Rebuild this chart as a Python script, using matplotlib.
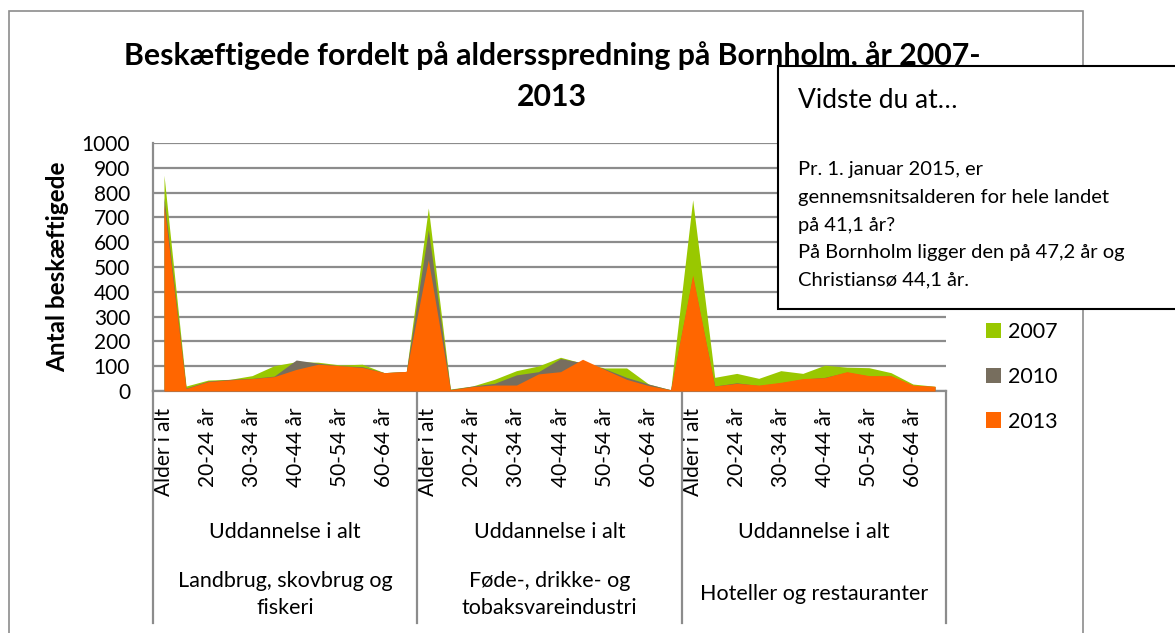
import numpy as np
import matplotlib.pyplot as plt
from matplotlib.patches import Rectangle, Patch
from matplotlib.lines import Line2D

plt.rcParams["font.family"] = ["Lato", "DejaVu Sans"]

# ---------------------------------------------------------
# Data
# ---------------------------------------------------------

ages = ["Alder i alt", "16-19 år", "20-24 år", "25-29 år", "30-34 år",
        "35-39 år", "40-44 år", "45-49 år", "50-54 år", "55-59 år",
        "60-64 år", "65 år og derover"]
industries = ["Landbrug, skovbrug og\nfiskeri",
              "Føde-, drikke- og\ntobaksvareindustri",
              "Hoteller og restauranter"]
education = "Uddannelse i alt"

years = ["2007", "2010", "2013"]

v2007 = [870, 20, 44, 47, 62, 102, 118, 116, 105, 108, 74, 79,
         738, 8, 20, 47, 82, 101, 136, 112, 93, 93, 28, 5,
         771, 55, 71, 51, 82, 71, 104, 96, 94, 74, 28, 19]
v2010 = [780, 12, 40, 47, 51, 60, 125, 112, 102, 98, 74, 79,
         650, 6, 20, 31, 65, 78, 131, 114, 90, 55, 28, 5,
         460, 20, 33, 22, 33, 48, 55, 76, 60, 60, 22, 18]
v2013 = [750, 10, 38, 45, 50, 58, 87, 108, 102, 95, 74, 79,
         529, 5, 18, 24, 24, 69, 78, 128, 87, 47, 22, 5,
         468, 20, 31, 24, 35, 50, 54, 78, 62, 62, 24, 19]

colors = ["#99C800", "#776E5E", "#FF6600"]

# ---------------------------------------------------------
# Figure
# ---------------------------------------------------------

W, H = 1175, 633
fig = plt.figure(figsize=(W / 100, H / 100), dpi=100)

# outer chart border
fig.add_artist(Rectangle((9 / W, 1 - 640 / H), (1083 - 9) / W, (640 - 11) / H,
                         transform=fig.transFigure, fill=False,
                         edgecolor="#8C8C8C", linewidth=1.2))

x0, x1, y0, y1 = 153, 946, 391, 143
ax = fig.add_axes([x0 / W, 1 - y0 / H, (x1 - x0) / W, (y0 - y1) / H])

n_groups = len(industries)
n_ages = len(ages)
x = np.arange(n_groups * n_ages)

for vals, color, z in zip([v2007, v2010, v2013], colors, [2, 3, 4]):
    ax.fill_between(x, 0, vals, color=color, linewidth=0, zorder=z)

ax.set_xlim(-0.5, n_groups * n_ages - 0.5)
ax.set_ylim(0, 1000)
ax.set_yticks(np.arange(0, 1001, 100))
ax.yaxis.grid(True, color="#8C8C8C", linewidth=1.6)
ax.set_axisbelow(True)

for side in ["top", "right"]:
    ax.spines[side].set_visible(False)
for side in ["left", "bottom"]:
    ax.spines[side].set_color("#8C8C8C")
    ax.spines[side].set_linewidth(1.6)

ax.tick_params(axis="y", length=0, labelsize=15, pad=16.5)

tick_pos = [g * n_ages + i for g in range(n_groups) for i in range(0, 11, 2)]
tick_lab = [ages[i] for g in range(n_groups) for i in range(0, 11, 2)]
ax.set_xticks(tick_pos, tick_lab, rotation=90, fontsize=15)
ax.tick_params(axis="x", length=0, pad=12)

ax.set_ylabel("Antal beskæftigede", fontsize=17.5, fontweight="bold",
              labelpad=9)

# multi-level category axis
tr = ax.get_xaxis_transform()
for g in range(n_groups + 1):
    ax.add_line(Line2D([g * n_ages - 0.5] * 2, [0, -0.935], transform=tr,
                       color="#8C8C8C", linewidth=1.6, clip_on=False))
for g in range(n_groups):
    xc = g * n_ages + (n_ages - 1) / 2
    ax.text(xc, -0.567, education, transform=tr, ha="center", va="center",
            fontsize=15.5)
    ax.text(xc, -0.82, industries[g], transform=tr, ha="center",
            va="center", fontsize=15.5, linespacing=1.4)

# title
fig.text(552 / W, 1 - 56 / H,
         "Beskæftigede fordelt på aldersspredning på Bornholm, år 2007-",
         ha="center", va="center", fontsize=21.8, fontweight="bold")
fig.text(552 / W, 1 - 97 / H, "2013", ha="center", va="center",
         fontsize=21.8, fontweight="bold")

# legend
handles = [Patch(facecolor=c, edgecolor="none", label=y)
           for c, y in zip(colors, years)]
fig.legend(handles=handles, loc="upper left",
           bbox_to_anchor=(986 / W, 1 - 322 / H), frameon=False,
           fontsize=15.5, handlelength=0.7, handleheight=0.7,
           handletextpad=0.3, labelspacing=1.15, borderpad=0,
           borderaxespad=0)

# callout box
fig.add_artist(Rectangle((778 / W, 1 - 309 / H), 420 / W, (309 - 66) / H,
                         transform=fig.transFigure, facecolor="white",
                         edgecolor="black", linewidth=1.5, zorder=10))
fig.text(798 / W, 1 - 100 / H, "Vidste du at…", ha="left", va="center",
         fontsize=19, zorder=11)
box_lines = ["Pr. 1. januar 2015, er",
             "gennemsnitsalderen for hele landet",
             "på 41,1 år?",
             "På Bornholm ligger den på 47,2 år og",
             "Christiansø 44,1 år."]
for i, line in enumerate(box_lines):
    fig.text(798 / W, 1 - (170 + 27.5 * i) / H, line, ha="left",
             va="center", fontsize=14.5, zorder=11)

fig.savefig("out.png", dpi=100)
